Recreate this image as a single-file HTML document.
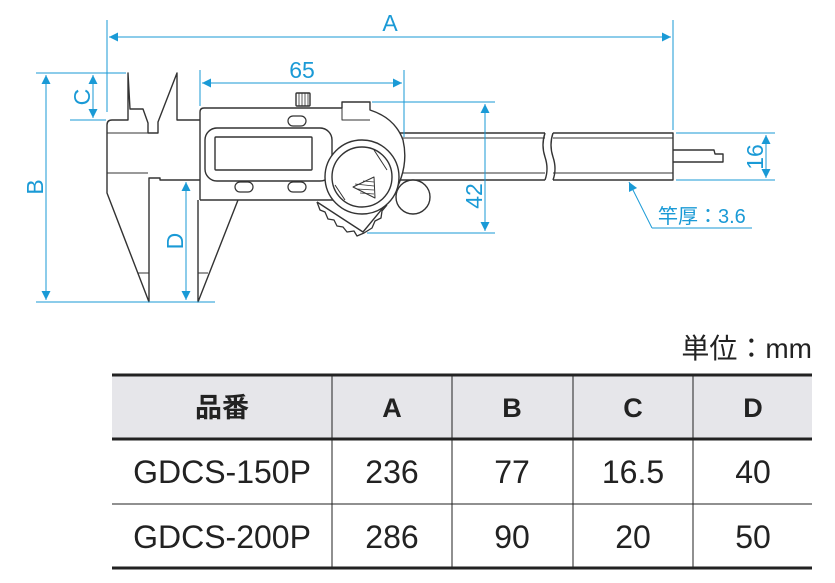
<!DOCTYPE html>
<html><head><meta charset="utf-8"><style>
body{margin:0;background:#fff;}
svg{display:block}
</style></head><body>
<svg width="835" height="583" viewBox="0 0 835 583" xmlns="http://www.w3.org/2000/svg">
<defs>
<marker id="ar" viewBox="0 0 10 10" refX="10" refY="5" markerWidth="13" markerHeight="9" orient="auto-start-reverse" markerUnits="userSpaceOnUse"><path d="M0,0L10,5L0,10z" fill="#1a9ad6"/></marker>
</defs>
<g fill="none" stroke="#333" stroke-width="1.4" stroke-linejoin="round">
<path d="M200,133H545 M553,133H673V180H553 M545,180H200"/>
<path d="M200,138H545 M553,138H673 M200,173H545 M553,173H673" stroke-width="1"/>
<path d="M545,133q-4,12 0,24q4,12 0,23 M553,133q-4,12 0,24q4,12 0,23"/>
<path d="M673,150H714l1,4H723V162H673"/>
<path d="M200,120H177V73L158,122V133H148V123L143,109H130L128,73V120H112Q107,120 107,125V193L149,302V178H160V180H200"/>
<path d="M107,133H148 M107,173H148" stroke-width="1"/>
<path d="M149,273L138,273" stroke-width="1"/>
<path d="M198,200V302L238,200"/>
<path d="M198,273L208,273" stroke-width="1"/>
<path d="M200,200V112Q200,108 204,108H342V102H370V110Q395,118 403,140Q410,170 390,200H200" fill="#fff"/>
<path d="M342,108V120H370" stroke-width="1"/>
<rect x="205" y="128" width="127" height="53" rx="12" fill="#fff"/>
<rect x="215" y="137" width="97" height="33" rx="1"/>
<rect x="235" y="182" width="18" height="10" rx="5" stroke-width="1.2"/>
<rect x="288" y="182" width="18" height="10" rx="5" stroke-width="1.2"/>
<rect x="288" y="116" width="18" height="10" rx="5" stroke-width="1.2"/>
<rect x="296" y="93" width="14" height="13" rx="1" fill="#fff"/>
<path d="M299,93V106M302,93V106M305,93V106M308,93V106" stroke-width="0.8"/>
<path d="M317,202L320,210L325,212L328,219L334,220L337,226L343,227L347,232L354,231L357,236L364,233L372,228L375,221L381,218L382,211L387,205" stroke-width="1.3"/>
<path d="M317,202L363,232L387,203"/>
<circle cx="362" cy="177" r="37" fill="#fff"/>
<circle cx="362" cy="177" r="30"/>
<path d="M374,150L387,170 M335,185L345,200" stroke-width="1"/>
<path d="M353,187L374,177L375,198z" stroke-width="1"/>
<path d="M357,189L374,190M360,193L374,194M355,184L374,186M363,181L374,182" stroke-width="0.8"/>
<circle cx="413" cy="197" r="17" fill="#fff"/>
</g>
<g stroke="#1a9ad6" stroke-width="1" fill="none">
<path d="M107,20V112 M673,20V130"/>
<path d="M109,37H671" marker-start="url(#ar)" marker-end="url(#ar)"/>
<path d="M200,70V106 M404,70V137"/>
<path d="M202,83H402" marker-start="url(#ar)" marker-end="url(#ar)"/>
<path d="M372,102H495 M367,233H495"/>
<path d="M485,104V231" marker-start="url(#ar)" marker-end="url(#ar)"/>
<path d="M676,133H775 M676,180H775"/>
<path d="M766,135V178" marker-start="url(#ar)" marker-end="url(#ar)"/>
<path d="M70,73H126 M70,120H106"/>
<path d="M93,75V118" marker-start="url(#ar)" marker-end="url(#ar)"/>
<path d="M36,73H70 M36,302H215"/>
<path d="M46,75V300" marker-start="url(#ar)" marker-end="url(#ar)"/>
<path d="M186,182V300" marker-start="url(#ar)" marker-end="url(#ar)"/>
<path d="M652,228L629,182" marker-end="url(#ar)"/>
<path d="M652,228H752"/>
</g>
<g fill="#1a9ad6" font-family="Liberation Sans, sans-serif" font-size="23">
<text x="390" y="31" text-anchor="middle">A</text>
<text x="302" y="78" text-anchor="middle">65</text>
<text transform="translate(482,196) rotate(-90)" text-anchor="middle">42</text>
<text transform="translate(763,157) rotate(-90)" text-anchor="middle">16</text>
<text transform="translate(90,97) rotate(-90)" text-anchor="middle">C</text>
<text transform="translate(43,187) rotate(-90)" text-anchor="middle">B</text>
<text transform="translate(183,241) rotate(-90)" text-anchor="middle">D</text>
<text x="658" y="223" font-size="20" font-family="Liberation Sans, Noto Sans CJK JP, sans-serif">竿厚：3.6</text>
</g>
<text x="812" y="358" text-anchor="end" font-size="28" fill="#222" font-family="Liberation Sans, Noto Sans CJK JP, sans-serif">単位：mm</text>
<rect x="112" y="374" width="700" height="65" fill="#e6e6ea"/>
<g stroke="#222">
<path d="M112,375H812 M112,439H812 M112,568H812" stroke-width="3"/>
<path d="M112,504H812" stroke-width="1"/>
<path d="M332,375V568 M452,375V568 M573,375V568 M693,375V568" stroke-width="1"/>
</g>
<g font-family="Liberation Sans, Noto Sans CJK JP, sans-serif" fill="#222" text-anchor="middle">
<g font-weight="bold" font-size="27">
<text x="222" y="417">品番</text><text x="392" y="417">A</text><text x="512" y="417">B</text><text x="633" y="417">C</text><text x="753" y="417">D</text>
</g>
<g font-size="32">
<text x="222" y="483">GDCS-150P</text><text x="392" y="483">236</text><text x="512" y="483">77</text><text x="633" y="483">16.5</text><text x="753" y="483">40</text>
<text x="222" y="548">GDCS-200P</text><text x="392" y="548">286</text><text x="512" y="548">90</text><text x="633" y="548">20</text><text x="753" y="548">50</text>
</g>
</g>
</svg>
</body></html>
